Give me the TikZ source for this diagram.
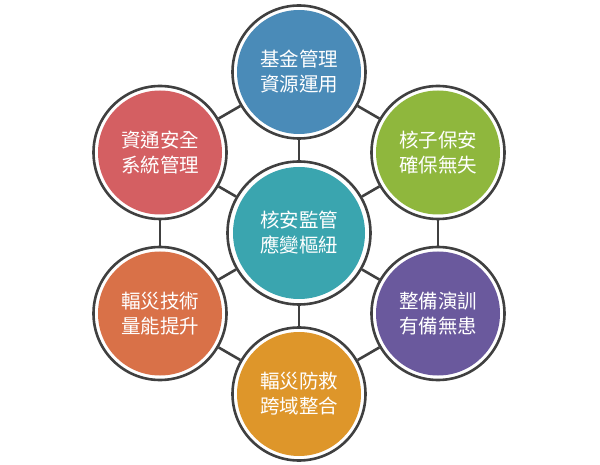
\documentclass[tikz,border=0pt]{standalone}
\usepackage{fontspec}
\newfontfamily\cjk{Noto Sans CJK TC}
\definecolor{ringgray}{RGB}{64,64,64}
\definecolor{cblue}{RGB}{74,139,184}
\definecolor{cteal}{RGB}{58,165,175}
\definecolor{cgreen}{RGB}{143,183,61}
\definecolor{cpurple}{RGB}{106,89,157}
\definecolor{corange}{RGB}{222,150,42}
\definecolor{cred}{RGB}{217,113,72}
\definecolor{crose}{RGB}{212,95,98}
\begin{document}
\begin{tikzpicture}[x=1pt,y=1pt,
  ringnode/.style={circle, draw=ringgray, line width=2.6pt, fill=white, minimum size=133pt, inner sep=0pt},
  bigring/.style={ringnode, minimum size=143pt},
  bub/.style={circle, fill=#1, minimum size=124pt, inner sep=0pt, text=white, align=center,
    font=\cjk\fontsize{19.5}{25}\selectfont},
  bigbub/.style={bub=#1, minimum size=132pt},
  link/.style={draw=ringgray, line width=2.6pt}]
\useasboundingbox (0,0) rectangle (600,464);
% rings
\node[bigring] (c)  at (299,231) {};
\node[ringnode] (t)  at (299,392) {};
\node[ringnode] (ur) at (438,311.5) {};
\node[ringnode] (lr) at (438,150.5) {};
\node[ringnode] (b)  at (299,70) {};
\node[ringnode] (ll) at (160,150.5) {};
\node[ringnode] (ul) at (160,311.5) {};
% connectors
\path[link] (c) -- (t);
\path[link] (c) -- (ur);
\path[link] (c) -- (lr);
\path[link] (c) -- (b);
\path[link] (c) -- (ll);
\path[link] (c) -- (ul);
\path[link] (t) -- (ur);
\path[link] (ur) -- (lr);
\path[link] (lr) -- (b);
\path[link] (b) -- (ll);
\path[link] (ll) -- (ul);
\path[link] (ul) -- (t);
% filled discs with text
\node[bigbub=cteal] (cf) at (c) {核安監管\\應變樞紐};
\node[bub=cblue] (tf) at (t) {基金管理\\資源運用};
\node[bub=cgreen] (urf) at (ur) {核子保安\\確保無失};
\node[bub=cpurple] (lrf) at (lr) {整備演訓\\有備無患};
\node[bub=corange] (bf) at (b) {輻災防救\\跨域整合};
\node[bub=cred] (llf) at (ll) {輻災技術\\量能提升};
\node[bub=crose] (ulf) at (ul) {資通安全\\系統管理};
\end{tikzpicture}
\end{document}
